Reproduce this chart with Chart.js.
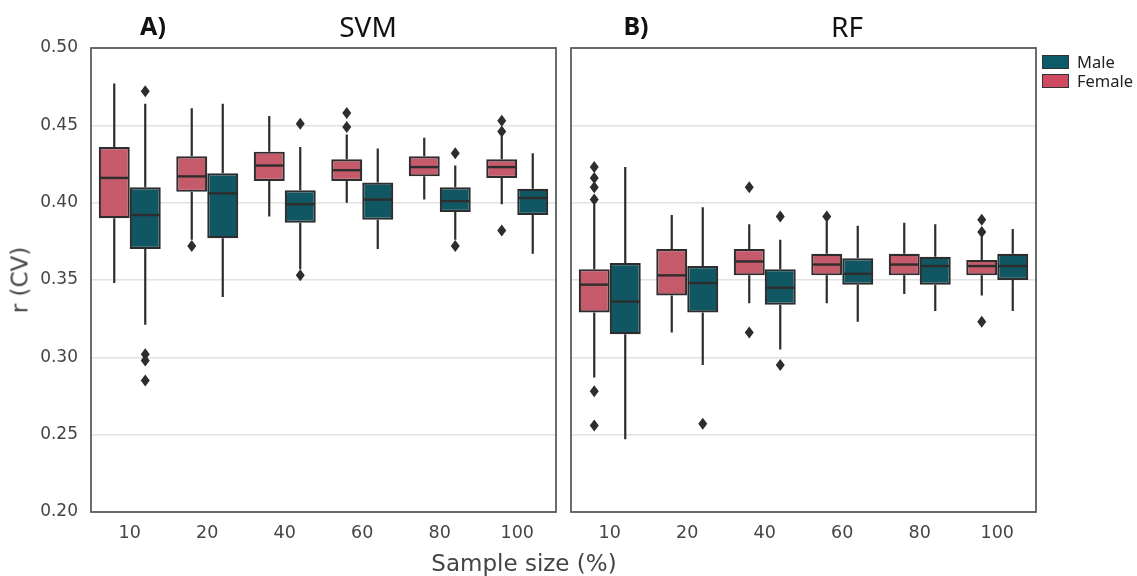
<!DOCTYPE html>
<html lang="en">
<head>
<meta charset="UTF-8">
<title>r (CV) by sample size - SVM and RF</title>
<style>
  html, body { margin: 0; padding: 0; background: #fff; }
  body { width: 1137px; height: 576px; position: relative; overflow: hidden; font-family: "DejaVu Sans", sans-serif; }
  canvas { position: absolute; top: 0; }
  #svmChart { left: 0; }
  #rfChart { left: 560px; }
  .txt { position: absolute; white-space: nowrap; transform: translate(-50%, -50%); line-height: 1; }
  .panelTag { font-family: "Noto Sans", sans-serif; font-weight: bold; font-size: 25px; color: #111; }
  .panelTitle { font-family: "Noto Sans", sans-serif; font-size: 28px; color: #111; }
  .axisTitle { font-size: 23px; color: #444; }
  .legend { position: absolute; left: 1042px; top: 52px; font-family: "Noto Sans", sans-serif; font-size: 16.5px; color: #222; }
  .legend div { height: 19px; display: flex; align-items: center; }
  .legend span.sw { display: inline-block; width: 25px; height: 12px; border: 1px solid #333; margin-right: 8px; }
</style>
</head>
<body>
  <canvas id="svmChart" width="560" height="576"></canvas>
  <canvas id="rfChart" width="577" height="576"></canvas>

  <div class="txt panelTag" style="left:153px; top:25px;">A)</div>
  <div class="txt panelTitle" style="left:368px; top:26px;">SVM</div>
  <div class="txt panelTag" style="left:636px; top:25px;">B)</div>
  <div class="txt panelTitle" style="left:847px; top:26px;">RF</div>
  <div class="txt axisTitle" style="left:20px; top:280px; transform: translate(-50%, -50%) rotate(-90deg);">r (CV)</div>
  <div class="txt axisTitle" style="left:524px; top:563px;">Sample size (%)</div>

  <div class="legend">
    <div><span class="sw" style="background:#0d5b69;"></span>Male</div>
    <div><span class="sw" style="background:#d04a63;"></span>Female</div>
  </div>

<script src="https://cdn.jsdelivr.net/npm/chart.js@4.4.0/dist/chart.umd.min.js"></script>
<script>
  const categories = ['10', '20', '40', '60', '80', '100'];
  const yTicks = [0.20, 0.25, 0.30, 0.35, 0.40, 0.45, 0.50];

  // each entry: [whisker low, q1, median, q3, whisker high]
  const svmFemale = [
    [0.348, 0.390, 0.416, 0.436, 0.477],
    [0.376, 0.407, 0.417, 0.430, 0.461],
    [0.391, 0.414, 0.424, 0.433, 0.456],
    [0.400, 0.414, 0.421, 0.428, 0.444],
    [0.402, 0.417, 0.423, 0.430, 0.442],
    [0.399, 0.416, 0.423, 0.428, 0.443]
  ];
  const svmFemaleOut = [[], [0.372], [], [0.449, 0.458], [], [0.382, 0.446, 0.453]];

  const svmMale = [
    [0.321, 0.370, 0.392, 0.410, 0.464],
    [0.339, 0.377, 0.406, 0.419, 0.464],
    [0.357, 0.387, 0.399, 0.408, 0.436],
    [0.370, 0.389, 0.402, 0.413, 0.435],
    [0.376, 0.394, 0.401, 0.410, 0.424],
    [0.367, 0.392, 0.403, 0.409, 0.432]
  ];
  const svmMaleOut = [[0.472, 0.302, 0.298, 0.285], [], [0.451, 0.353], [], [0.432, 0.372], []];

  const rfFemale = [
    [0.287, 0.329, 0.347, 0.357, 0.399],
    [0.316, 0.340, 0.353, 0.370, 0.392],
    [0.335, 0.353, 0.362, 0.370, 0.386],
    [0.335, 0.353, 0.360, 0.367, 0.388],
    [0.341, 0.353, 0.360, 0.367, 0.387],
    [0.340, 0.353, 0.359, 0.363, 0.378]
  ];
  const rfFemaleOut = [[0.423, 0.416, 0.410, 0.402, 0.278, 0.256], [], [0.410, 0.316], [0.391], [], [0.389, 0.381, 0.323]];

  const rfMale = [
    [0.247, 0.315, 0.336, 0.361, 0.423],
    [0.295, 0.329, 0.348, 0.359, 0.397],
    [0.305, 0.334, 0.345, 0.357, 0.376],
    [0.323, 0.347, 0.354, 0.364, 0.385],
    [0.330, 0.347, 0.359, 0.365, 0.386],
    [0.330, 0.350, 0.359, 0.367, 0.383]
  ];
  const rfMaleOut = [[], [0.257], [0.391, 0.295], [], [], []];

  const femaleFill = '#c55a6b';
  const maleFill = '#115763';
  const lineColor = '#2d2d2d';

  const boxPlugin = {
    id: 'boxes',
    beforeDatasetsDraw(chart) {
      const ctx = chart.ctx;
      const y = chart.scales.y;
      ctx.save();
      ctx.strokeStyle = lineColor;
      ctx.lineWidth = 2.2;
      chart.data.datasets.forEach((ds, d) => {
        const meta = chart.getDatasetMeta(d);
        ds.stats.forEach((s, i) => {
          const x = meta.data[i].x;
          ctx.beginPath();
          ctx.moveTo(x, y.getPixelForValue(s[0]));
          ctx.lineTo(x, y.getPixelForValue(s[1]));
          ctx.moveTo(x, y.getPixelForValue(s[3]));
          ctx.lineTo(x, y.getPixelForValue(s[4]));
          ctx.stroke();
        });
      });
      ctx.restore();
    },
    afterDatasetsDraw(chart) {
      const ctx = chart.ctx;
      const y = chart.scales.y;
      ctx.save();
      chart.data.datasets.forEach((ds, d) => {
        const meta = chart.getDatasetMeta(d);
        ds.stats.forEach((s, i) => {
          const el = meta.data[i];
          const half = el.width / 2 - 1;
          const my = y.getPixelForValue(s[2]);
          ctx.strokeStyle = lineColor;
          ctx.lineWidth = 2.4;
          ctx.beginPath();
          ctx.moveTo(el.x - half, my);
          ctx.lineTo(el.x + half, my);
          ctx.stroke();
          ctx.fillStyle = lineColor;
          ds.outliers[i].forEach(v => {
            const py = y.getPixelForValue(v);
            ctx.beginPath();
            ctx.moveTo(el.x, py - 6);
            ctx.lineTo(el.x + 4.5, py);
            ctx.lineTo(el.x, py + 6);
            ctx.lineTo(el.x - 4.5, py);
            ctx.closePath();
            ctx.fill();
          });
        });
      });
      ctx.restore();
    },
    afterDraw(chart) {
      const ctx = chart.ctx;
      const a = chart.chartArea;
      ctx.save();
      ctx.strokeStyle = '#5c5c5c';
      ctx.lineWidth = 1.8;
      ctx.strokeRect(a.left, a.top, a.right - a.left, a.bottom - a.top);
      ctx.restore();
    }
  };

  function makeChart(id, female, femaleOut, male, maleOut, showY, padRight, yWidth) {
    return new Chart(document.getElementById(id), {
      type: 'bar',
      data: {
        labels: categories,
        datasets: [
          {
            label: 'Female',
            data: female.map(s => [s[1], s[3]]),
            stats: female,
            outliers: femaleOut,
            backgroundColor: femaleFill,
            borderColor: lineColor,
            borderWidth: 2.2,
            borderSkipped: false
          },
          {
            label: 'Male',
            data: male.map(s => [s[1], s[3]]),
            stats: male,
            outliers: maleOut,
            backgroundColor: maleFill,
            borderColor: lineColor,
            borderWidth: 2.2,
            borderSkipped: false
          }
        ]
      },
      options: {
        responsive: false,
        animation: false,
        categoryPercentage: 0.8,
        barPercentage: 1.0,
        layout: { padding: { top: 48, right: padRight, left: 0, bottom: 0 } },
        plugins: { legend: { display: false }, tooltip: { enabled: false } },
        scales: {
          x: {
            grid: { display: false, drawTicks: false },
            border: { display: false },
            ticks: { color: '#444', font: { family: 'DejaVu Sans', size: 17.5 }, padding: 11 },
            afterFit: s => { s.height = 64; }
          },
          y: {
            min: 0.2,
            max: 0.5,
            afterBuildTicks: s => { s.ticks = yTicks.map(v => ({ value: v })); },
            grid: { color: '#e2e2e2', lineWidth: 1.5, drawTicks: false },
            border: { display: false },
            ticks: {
              display: showY,
              color: '#444',
              font: { family: 'DejaVu Sans', size: 17 },
              padding: 13,
              callback: v => v.toFixed(2)
            },
            afterFit: s => { s.width = yWidth; }
          }
        }
      },
      plugins: [boxPlugin]
    });
  }

  makeChart('svmChart', svmFemale, svmFemaleOut, svmMale, svmMaleOut, true, 4, 91);
  makeChart('rfChart', rfFemale, rfFemaleOut, rfMale, rfMaleOut, false, 101, 11);
</script>
</body>
</html>
